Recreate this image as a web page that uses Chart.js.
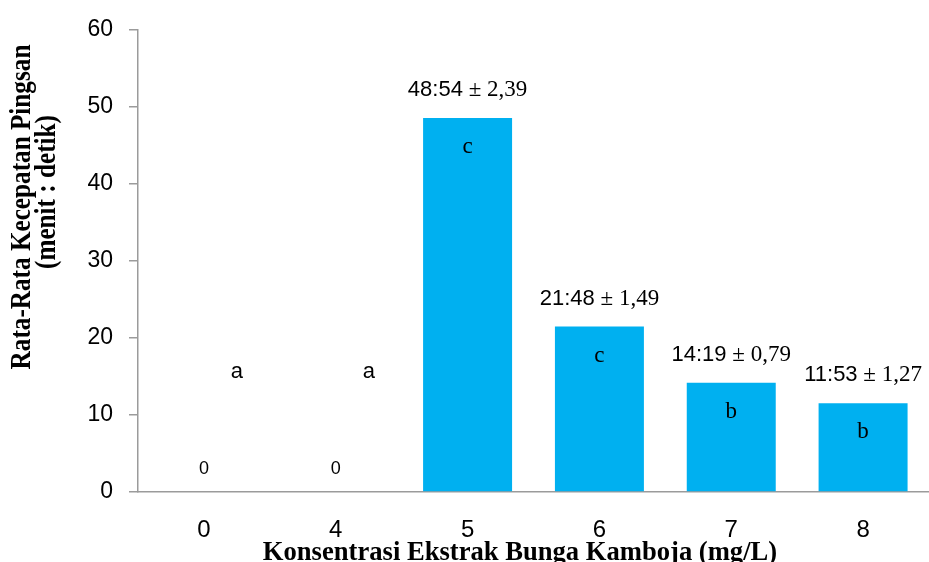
<!DOCTYPE html>
<html>
<head>
<meta charset="utf-8">
<script src="https://cdn.jsdelivr.net/npm/chart.js@4"></script>
<style>
  html, body { margin: 0; padding: 0; background: #fff; }
  #wrap { width: 929px; height: 562px; position: relative; }
</style>
</head>
<body>
<div id="wrap"><canvas id="c"></canvas></div>
<script>
// Konsentrasi ekstrak (mg/L)
const categories = ['0', '4', '5', '6', '7', '8'];
// Rata-rata waktu pingsan, menit.detik
const meanTimes = [0, 0, 48.54, 21.48, 14.19, 11.53];
// Standar deviasi
const stdDevs = [null, null, 2.39, 1.49, 0.79, 1.27];
// Notasi uji lanjut
const groupLetters = ['a', 'a', 'c', 'c', 'b', 'b'];
const yTicks = [0, 10, 20, 30, 40, 50, 60];

const xTitle = 'Konsentrasi Ekstrak Bunga Kamboja (mg/L)';
const yTitle = ['Rata-Rata Kecepatan Pingsan', '(menit : detik)'];

const SANS = '"Liberation Sans", Arial, sans-serif';
const SERIF = '"Liberation Serif", "Times New Roman", serif';
const AXIS_GREY = '#9b9b9b';

const fmtTime = v => v.toFixed(2).replace('.', ':');
const fmtSd = v => v.toFixed(2).replace('.', ',');

const annotate = {
  id: 'annotate',
  afterDatasetsDraw(chart) {
    const { ctx, scales: { y } } = chart;
    const bars = chart.getDatasetMeta(0).data;
    ctx.save();
    ctx.fillStyle = '#000';
    bars.forEach((bar, i) => {
      const v = meanTimes[i];
      if (v > 0) {
        // mean ± sd above the bar
        const p1 = fmtTime(v);
        const p2 = ' \u00b1 ' + fmtSd(stdDevs[i]);
        ctx.font = '22px ' + SANS;
        const w1 = ctx.measureText(p1).width;
        ctx.font = '23px ' + SERIF;
        const w2 = ctx.measureText(p2).width;
        const x0 = bar.x - (w1 + w2) / 2;
        const ty = bar.y - 28;
        ctx.textBaseline = 'middle';
        ctx.textAlign = 'left';
        ctx.font = '22px ' + SANS;
        ctx.fillText(p1, x0, ty);
        ctx.font = '23px ' + SERIF;
        ctx.fillText(p2, x0 + w1, ty);
        // group letter inside the bar
        ctx.textAlign = 'center';
        ctx.font = '23px ' + SERIF;
        ctx.fillText(groupLetters[i], bar.x, bar.y + 29);
      } else {
        ctx.textAlign = 'center';
        ctx.textBaseline = 'middle';
        ctx.font = '18px ' + SANS;
        ctx.fillText(String(v), bar.x, y.getPixelForValue(0) - 23);
        ctx.font = '22px ' + SANS;
        ctx.fillText(groupLetters[i], bar.x + 33, y.getPixelForValue(15.6));
      }
    });
    ctx.restore();
  },
  afterDraw(chart) {
    const { ctx } = chart;
    ctx.save();
    ctx.fillStyle = '#000';
    ctx.font = 'bold 30px ' + SERIF;
    ctx.textAlign = 'center';
    ctx.textBaseline = 'middle';
    // vertical axis title, two lines
    const yCentres = [[22, 207], [47, 192]];
    yTitle.forEach((t, k) => {
      ctx.save();
      ctx.translate(yCentres[k][0], yCentres[k][1]);
      ctx.rotate(-Math.PI / 2);
      ctx.scale(0.84, 1);
      ctx.fillText(t, 0, 0);
      ctx.restore();
    });
    // horizontal axis title
    ctx.font = 'bold 28px ' + SERIF;
    ctx.textBaseline = 'alphabetic';
    ctx.save();
    ctx.translate(520, 560);
    ctx.scale(0.95, 1);
    ctx.fillText(xTitle, 0, 0);
    ctx.restore();
    ctx.restore();
  }
};

new Chart(document.getElementById('c'), {
  type: 'bar',
  data: {
    labels: categories,
    datasets: [{
      data: meanTimes,
      backgroundColor: '#00b0f0',
      borderWidth: 0,
      barPercentage: 0.675,
      categoryPercentage: 1.0
    }]
  },
  options: {
    responsive: true,
    maintainAspectRatio: false,
    animation: false,
    layout: { autoPadding: false, padding: { top: 25, right: 0, left: 0, bottom: 0 } },
    plugins: { legend: { display: false }, tooltip: { enabled: false } },
    scales: {
      x: {
        afterFit: s => { s.height = 70; },
        grid: { display: false },
        border: { display: true, color: AXIS_GREY, width: 1.5 },
        ticks: { color: '#000', font: { family: SANS, size: 24 }, padding: 16 }
      },
      y: {
        min: 0,
        max: 60,
        afterFit: s => { s.width = 138; },
        afterBuildTicks: s => { s.ticks = yTicks.map(v => ({ value: v })); },
        grid: { display: true, drawOnChartArea: false, drawTicks: true, tickLength: 9, color: AXIS_GREY, lineWidth: 1.5 },
        border: { display: true, color: AXIS_GREY, width: 1.5 },
        ticks: { color: '#000', font: { family: SANS, size: 23 }, padding: 16 }
      }
    }
  },
  plugins: [annotate]
});
</script>
</body>
</html>
